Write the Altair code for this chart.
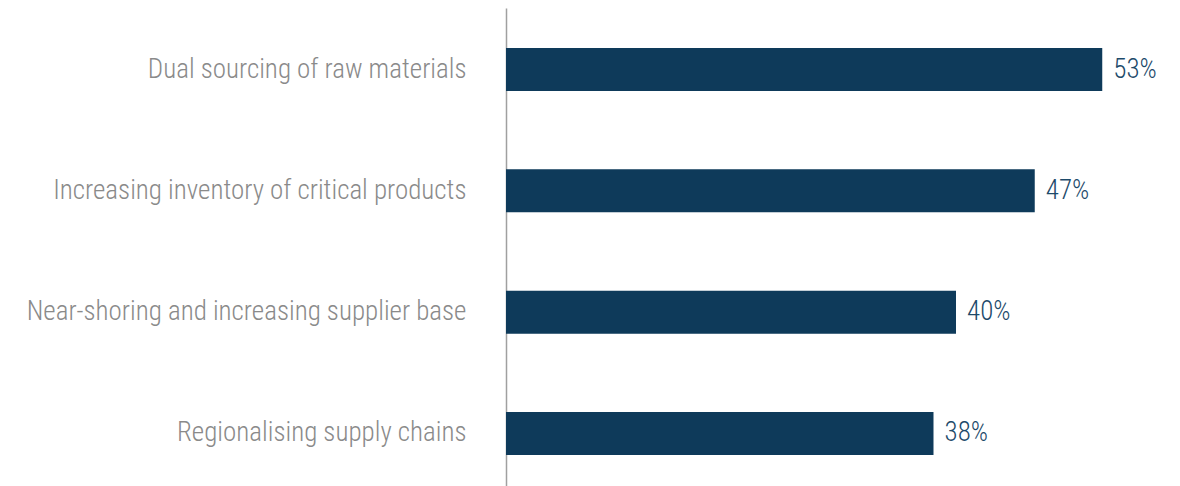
import altair as alt
import pandas as pd

categories = [
    "Dual sourcing of raw materials",
    "Increasing inventory of critical products",
    "Near-shoring and increasing supplier base",
    "Regionalising supply chains",
]
values = [53, 47, 40, 38]
labels = ["53%", "47%", "40%", "38%"]

df = pd.DataFrame({"category": categories, "value": values, "label": labels})

FONT = "Roboto Condensed Light, Roboto Condensed, Lato Light, Lato"

y = alt.Y(
    "category:N",
    sort=categories,
    title=None,
    scale=alt.Scale(paddingInner=0.646, paddingOuter=0.33),
    axis=alt.Axis(
        ticks=False,
        labelPadding=40,
        labelFont=FONT,
        labelFontSize=27,
        labelColor="#8a8a8a",
        labelLimit=600,
        domainColor="#a0a0a0",
        domainWidth=1.5,
    ),
)
x = alt.X("value:Q", title=None, scale=alt.Scale(domain=[0, 58.667], nice=False), axis=None)

bars = alt.Chart(df).mark_bar(color="#0e3a5a").encode(x=x, y=y)
text = alt.Chart(df).mark_text(
    align="left", dx=11, font=FONT, fontSize=27, color="#1d4a6a"
).encode(x=x, y=y, text="label:N")

chart = (
    (bars + text)
    .properties(
        width=660,
        height=487,
        autosize=alt.AutoSizeParams(type="none"),
        padding={"left": 498, "top": 0, "right": 0, "bottom": 0},
    )
    .configure_view(stroke=None)
)

chart.save("out.html", embed_options={"renderer": "svg", "actions": False})
